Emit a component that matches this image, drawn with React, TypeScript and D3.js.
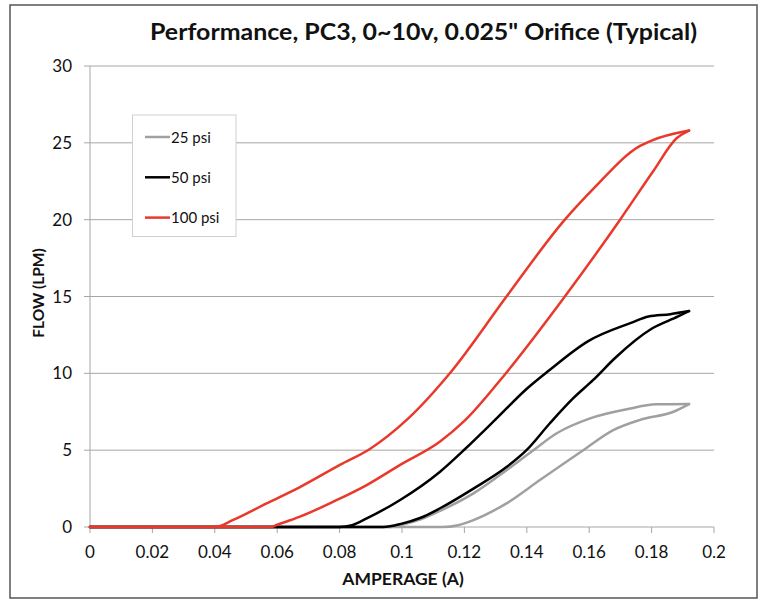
import React from "react";
import * as d3 from "d3";

const xTicks = [0, 0.02, 0.04, 0.06, 0.08, 0.1, 0.12, 0.14, 0.16, 0.18, 0.2];
const yTicks = [0, 5, 10, 15, 20, 25, 30];
const seriesNames = ["25 psi", "50 psi", "100 psi"];

const grayUp: [number, number][] = [
  [0, 0], [0.096, 0], [0.1, 0.15], [0.106, 0.5], [0.1122, 1.05], [0.1229, 2.19], [0.1335, 3.7],
  [0.1421, 5.0], [0.1496, 6.1], [0.1603, 7.07], [0.172, 7.66], [0.1816, 7.98], [0.192, 8.0],
];
const grayDown: [number, number][] = [
  [0, 0], [0.113, 0], [0.118, 0.12], [0.1229, 0.45], [0.1335, 1.54], [0.1442, 3.06], [0.1581, 5.0],
  [0.1677, 6.3], [0.1763, 6.97], [0.187, 7.5], [0.192, 8.0],
];
const blackUp: [number, number][] = [
  [0, 0], [0.08, 0], [0.084, 0.12], [0.0887, 0.56], [0.0994, 1.76], [0.1122, 3.6], [0.1203, 5.09],
  [0.13, 7.0], [0.14, 9.0], [0.147, 10.17], [0.1597, 12.1], [0.1736, 13.3], [0.179, 13.7],
  [0.186, 13.85], [0.192, 14.05],
];
const blackDown: [number, number][] = [
  [0, 0], [0.094, 0], [0.1, 0.22], [0.106, 0.6], [0.1122, 1.22], [0.1229, 2.5], [0.1335, 3.9],
  [0.1399, 5.0], [0.1474, 6.75], [0.1549, 8.38], [0.1613, 9.57], [0.1683, 11.0], [0.18, 12.9],
  [0.1885, 13.7], [0.192, 14.05],
];
const redUp: [number, number][] = [
  [0, 0], [0.04, 0], [0.0459, 0.46], [0.0566, 1.54], [0.0673, 2.6], [0.0801, 4.04], [0.0897, 5.08],
  [0.1015, 6.97], [0.116, 10.17], [0.1335, 15.0], [0.1522, 20.0], [0.1613, 22.0], [0.1763, 24.8],
  [0.18, 25.15], [0.192, 25.8],
];
const redDown: [number, number][] = [
  [0, 0], [0.058, 0], [0.0598, 0.13], [0.0673, 0.67], [0.078, 1.65], [0.0887, 2.73], [0.0994, 4.04],
  [0.1122, 5.56], [0.12, 6.9], [0.1331, 9.96], [0.1522, 15.0], [0.1699, 20.0], [0.1805, 23.15],
  [0.188, 25.3], [0.192, 25.8],
];

const colors = ["#a0a0a0", "#000000", "#e8392b"];
const seriesData = [
  [grayUp, grayDown],
  [blackUp, blackDown],
  [redUp, redDown],
];

export default function App() {
  const W = 766, H = 604;
  const x = d3.scaleLinear().domain([0, 0.2]).range([90, 714]);
  const y = d3.scaleLinear().domain([0, 30]).range([527, 66]);
  const line = d3
    .line<[number, number]>()
    .x((d) => x(d[0]))
    .y((d) => y(d[1]))
    .curve(d3.curveMonotoneX);
  const font = "Lato, 'Open Sans', sans-serif";
  const fmt = (v: number) => (v === 0 ? "0" : String(+v.toFixed(2)));

  return (
    <svg width={W} height={H} style={{ position: "absolute", left: 0, top: 0, background: "#fff" }} fontFamily={font}>
      <rect x={10} y={5} width={747} height={593} fill="#fff" stroke="#555" strokeWidth={1.5} />
      <text x={423.5} y={40} textAnchor="middle" fontSize={23} fontWeight="bold" fill="#111" textLength={547} lengthAdjust="spacingAndGlyphs">
        Performance, PC3, 0~10v, 0.025" Orifice (Typical)
      </text>
      {yTicks.filter((t) => t > 0).map((t) => (
        <line key={"g" + t} x1={x(0)} x2={x(0.2)} y1={y(t)} y2={y(t)} stroke="#a6a6a6" strokeWidth={1} />
      ))}
      <line x1={x(0)} x2={x(0)} y1={y(0)} y2={y(30)} stroke="#a6a6a6" />
      <line x1={x(0)} x2={x(0.2)} y1={y(0)} y2={y(0)} stroke="#a6a6a6" />
      {yTicks.map((t) => (
        <g key={"y" + t}>
          <line x1={x(0) - 6} x2={x(0)} y1={y(t)} y2={y(t)} stroke="#a6a6a6" />
          <text x={72} y={y(t) + 6} textAnchor="end" fontSize={17} fill="#111">{t}</text>
        </g>
      ))}
      {xTicks.map((t) => (
        <g key={"x" + t}>
          <line x1={x(t)} x2={x(t)} y1={y(0)} y2={y(0) + 6} stroke="#a6a6a6" />
          <text x={x(t)} y={558} textAnchor="middle" fontSize={17} fill="#111">{fmt(t)}</text>
        </g>
      ))}
      <text x={403} y={585} textAnchor="middle" fontSize={17.5} fontWeight="bold" fill="#111">AMPERAGE (A)</text>
      <text transform={`translate(44,293) rotate(-90)`} textAnchor="middle" fontSize={15.5} fontWeight="bold" fill="#111">
        FLOW (LPM)
      </text>
      {seriesData.map((branches, i) =>
        branches.map((b, j) => (
          <path key={i + "-" + j} d={line(b) || ""} fill="none" stroke={colors[i]} strokeWidth={2.5} strokeLinejoin="round" strokeLinecap="round" />
        ))
      )}
      <rect x={132.5} y={115} width={103.5} height={121.5} fill="#fff" stroke="#d0d0d0" />
      {seriesNames.map((n, i) => (
        <g key={n}>
          <line x1={145} x2={170} y1={137 + i * 40.3} y2={137 + i * 40.3} stroke={colors[i]} strokeWidth={2.5} />
          <text x={171} y={137 + i * 40.3 + 5.5} fontSize={15} fill="#111">{n}</text>
        </g>
      ))}
    </svg>
  );
}
